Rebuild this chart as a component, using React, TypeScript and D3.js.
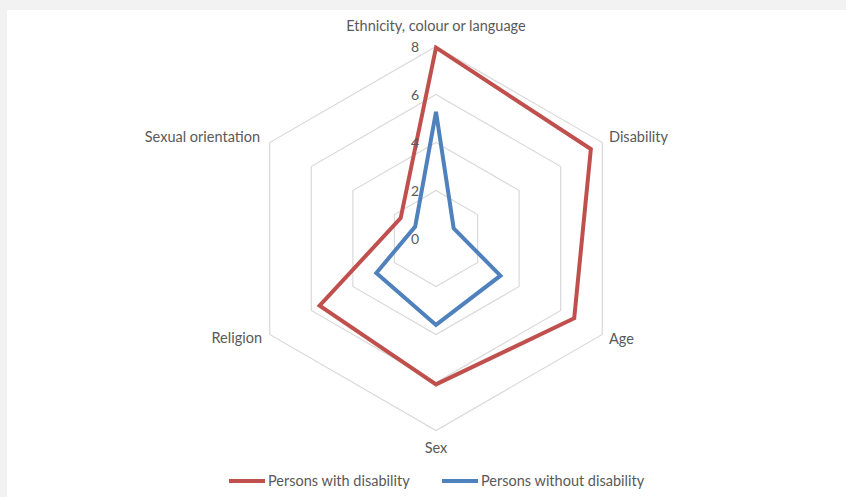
import React from "react";
import * as d3 from "d3";

const categories = [
  "Ethnicity, colour or language",
  "Disability",
  "Age",
  "Sex",
  "Religion",
  "Sexual orientation",
];
const withDisability = [7.95, 7.45, 6.65, 6.08, 5.6, 1.7];
const withoutDisability = [5.28, 0.85, 3.1, 3.6, 2.87, 1.0];
const ticks = [0, 2, 4, 6, 8];
const seriesNames = ["Persons with disability", "Persons without disability"];
const seriesColors = ["#c0504d", "#4f81bd"];

const W = 846;
const H = 497;
const cx = 436;
const cy = 238.5;
const R = 192;

export default function App() {
  const r = d3.scaleLinear().domain([0, 8]).range([0, R]);
  const angle = d3
    .scaleLinear()
    .domain([0, categories.length])
    .range([0, 2 * Math.PI]);
  const pt = (i: number, v: number): [number, number] => {
    const a = angle(i);
    return [cx + r(v) * Math.sin(a), cy - r(v) * Math.cos(a)];
  };
  const closed = d3.line().curve(d3.curveLinearClosed);
  const font = "Lato, 'Open Sans', sans-serif";
  const series = [withDisability, withoutDisability];

  const labelPos = [
    { x: cx, y: 31, anchor: "middle" },
    { x: 609, y: 142, anchor: "start" },
    { x: 609, y: 344, anchor: "start" },
    { x: cx, y: 453, anchor: "middle" },
    { x: 262, y: 343, anchor: "end" },
    { x: 260, y: 142, anchor: "end" },
  ];

  return (
    <svg
      width={W}
      height={H}
      style={{ position: "absolute", left: 0, top: 0, display: "block" }}
    >
      <rect x={0} y={0} width={W} height={H} fill="#f2f2f2" />
      <rect x={7} y={10} width={W - 7} height={H - 10} fill="#ffffff" />
      {ticks
        .filter((t) => t > 0)
        .map((t) => (
          <path
            key={t}
            d={closed(categories.map((_, i) => pt(i, t))) || ""}
            fill="none"
            stroke="#d9d9d9"
            strokeWidth={1.2}
          />
        ))}
      {series.map((s, si) => (
        <path
          key={si}
          d={closed(s.map((v, i) => pt(i, v))) || ""}
          fill="none"
          stroke={seriesColors[si]}
          strokeWidth={4}
          strokeLinejoin="miter"
        />
      ))}
      {ticks.map((t) => (
        <text
          key={t}
          x={cx - 17}
          y={cy - r(t) + 5}
          textAnchor="end"
          fontFamily={font}
          fontSize={14}
          fill="#595959"
        >
          {t}
        </text>
      ))}
      {categories.map((c, i) => (
        <text
          key={c}
          x={labelPos[i].x}
          y={labelPos[i].y}
          textAnchor={labelPos[i].anchor as any}
          fontFamily={font}
          fontSize={14.5}
          fill="#595959"
        >
          {c}
        </text>
      ))}
      {seriesNames.map((n, i) => {
        const x0 = i === 0 ? 229 : 442;
        return (
          <g key={n}>
            <line
              x1={x0}
              x2={x0 + 36}
              y1={481}
              y2={481}
              stroke={seriesColors[i]}
              strokeWidth={4}
            />
            <text
              x={x0 + 39}
              y={486}
              fontFamily={font}
              fontSize={14.5}
              fill="#595959"
            >
              {n}
            </text>
          </g>
        );
      })}
    </svg>
  );
}
